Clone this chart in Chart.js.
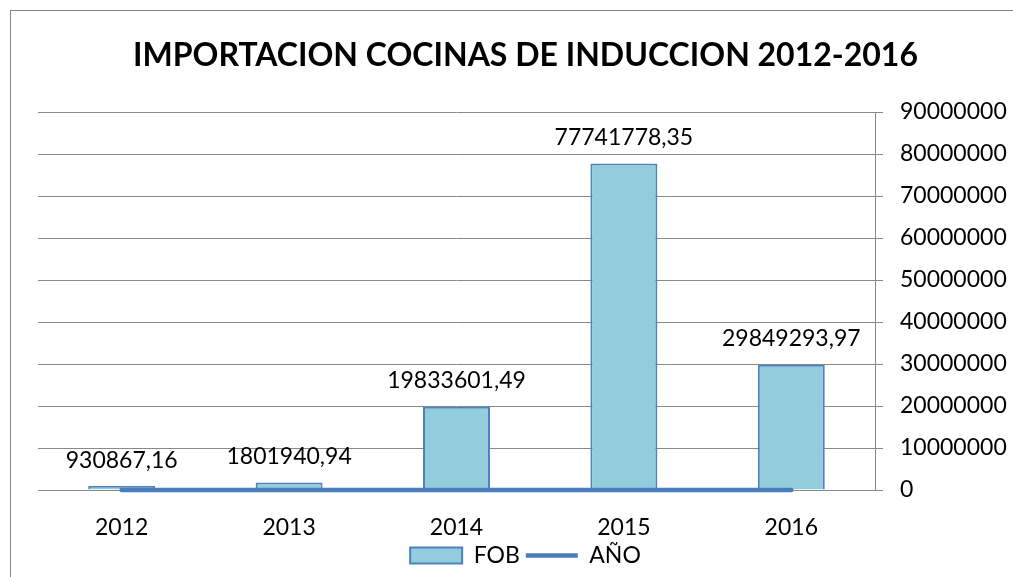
<!DOCTYPE html>
<html>
<head>
<meta charset="utf-8">
<script src="https://cdn.jsdelivr.net/npm/chart.js@4"></script>
<style>
  body { margin: 0; background: #fff; }
  #marco { position: absolute; left: 10px; top: 10px; width: 1100px; height: 700px;
           border-left: 1px solid #868686; border-top: 1px solid #868686; }
  #grafico { position: absolute; left: 0; top: 0; }
</style>
</head>
<body>
<div id="marco"></div>
<canvas id="grafico" width="1013" height="577"></canvas>
<script>
// datos
const anios = ['2012', '2013', '2014', '2015', '2016']
const fob = [930867.16, 1801940.94, 19833601.49, 77741778.35, 29849293.97]
const serieAnio = [2012, 2013, 2014, 2015, 2016]
const titulo = 'IMPORTACION COCINAS DE INDUCCION 2012-2016'

const fuente = 'Lato, "Open Sans", sans-serif'

// etiquetas encima de cada barra
const etiquetas = {
  id: 'etiquetas',
  afterDatasetsDraw(chart) {
    const ctx = chart.ctx
    const meta = chart.getDatasetMeta(0)
    ctx.save()
    ctx.font = '23px ' + fuente
    ctx.fillStyle = '#000'
    ctx.textAlign = 'center'
    ctx.textBaseline = 'middle'
    meta.data.forEach((barra, i) => {
      const txt = fob[i].toFixed(2).replace('.', ',')
      ctx.fillText(txt, barra.x, barra.y - 26)
    })
    ctx.restore()
  }
}

const config = {
  type: 'bar',
  data: {
    labels: anios,
    datasets: [{
      label: 'FOB',
      data: fob,
      backgroundColor: '#93CDDD',
      borderColor: '#4F81BD',
      borderWidth: 2,
      categoryPercentage: 1,
      barPercentage: 0.4,
      pointStyle: 'rect',
      order: 1
    }, {
      type: 'line',
      label: 'AÑO',
      data: serieAnio,
      borderColor: '#4A7EBB',
      backgroundColor: '#4A7EBB',
      borderWidth: 4.5,
      borderCapStyle: 'round',
      pointRadius: 0,
      pointStyle: 'line',
      clip: false,
      order: 0
    }]
  },
  options: {
    responsive: false,
    devicePixelRatio: 1,
    animation: false,
    layout: { padding: { left: 38, right: 0, top: 0, bottom: 0 } },
    plugins: {
      title: {
        display: true,
        text: titulo,
        color: '#000',
        font: { family: fuente, size: 32, weight: 'bold' },
        padding: { top: 36, bottom: 37.6 }
      },
      legend: {
        position: 'bottom',
        labels: {
          color: '#000',
          font: { family: fuente, size: 23 },
          usePointStyle: true,
          pointStyleWidth: 52,
          boxHeight: 16,
          padding: 6,
          sort: (a, b) => a.datasetIndex - b.datasetIndex
        }
      },
      tooltip: { enabled: false }
    },
    scales: {
      x: {
        grid: { display: false, drawTicks: false },
        border: { display: false },
        ticks: { color: '#000', font: { family: fuente, size: 23, lineHeight: 1 }, padding: 26.5 },
        afterFit(scale) { scale.height = 48 }
      },
      y: {
        position: 'right',
        min: 0,
        max: 90000000,
        grid: { color: '#898989', tickLength: 8 },
        border: { color: '#898989' },
        ticks: {
          stepSize: 10000000,
          color: '#000',
          font: { family: fuente, size: 23 },
          padding: 17,
          callback: v => String(v)
        },
        afterFit(scale) { scale.width = 138 }
      }
    }
  },
  plugins: [etiquetas]
}

const grafico = new Chart(document.getElementById('grafico'), config)
</script>
</body>
</html>
